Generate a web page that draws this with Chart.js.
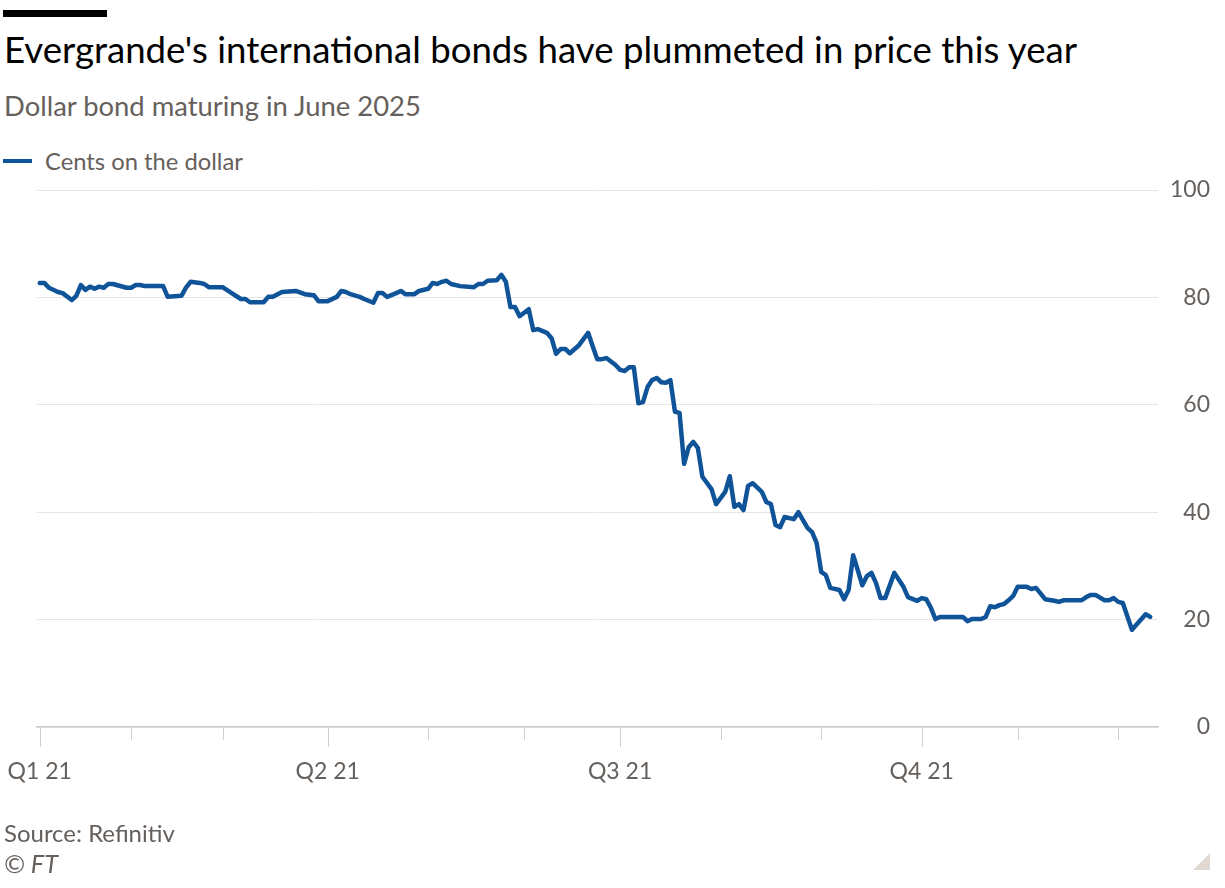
<!DOCTYPE html>
<html>
<head>
<meta charset="utf-8">
<script src="https://cdn.jsdelivr.net/npm/chart.js@4.4.1/dist/chart.umd.min.js"></script>
<style>
  html, body { margin: 0; padding: 0; background: #ffffff; }
  #wrap { position: relative; width: 1225px; height: 888px; overflow: hidden; font-family: Lato, "Noto Sans", sans-serif; }
  #chart { position: absolute; left: 0; top: 0; }
  .txt { position: absolute; left: 4px; white-space: nowrap; line-height: 1.2; }
  .txt span { display: inline-block; }
  #bar { position: absolute; left: 3px; top: 10px; width: 104px; height: 7px; background: #000; }
  #title { color: #000; }
  #subtitle { color: #66605c; }
  #legendText { color: #66605c; left: 45px; }
  #legendLine { position: absolute; left: 3px; top: 159px; width: 29px; height: 4px; background: #0f5499; }
  #source { color: #66605c; }
  #copy { color: #66605c; font-style: italic; }
  #corner { position: absolute; left: 1193px; top: 853px; width: 0; height: 0;
            border-left: 17px solid transparent; border-bottom: 17px solid #e0d9d3; }
</style>
</head>
<body>
<div id="wrap">
  <div id="bar"></div>
  <div class="txt" id="title" data-w="1073" data-base="64"><span>Evergrande's international bonds have plummeted in price this year</span></div>
  <div class="txt" id="subtitle" data-w="417" data-base="117"><span>Dollar bond maturing in June 2025</span></div>
  <div id="legendLine"></div>
  <div class="txt" id="legendText" data-w="198" data-base="170"><span>Cents on the dollar</span></div>
  <canvas id="chart" width="1225" height="888"></canvas>
  <div class="txt" id="source" data-w="171" data-base="843"><span>Source: Refinitiv</span></div>
  <div class="txt" id="copy" data-w="54" data-base="873"><span>© FT</span></div>
  <div id="corner"></div>
</div>
<script>
// ---- Data (x = trading day of 2021, y = price in cents on the dollar) ----
const tradingDay = [0,1,2,4,5,7,8,9,10,11,12,13,14,15,16,19,20,21,22,23,27,28,31,32,33,35,36,37,40,42,44,45,46,49,50,51,53,56,58,60,61,63,65,66,67,68,70,71,73,74,75,76,78,79,80,82,83,85,86,87,88,89,90,92,95,96,97,98,100,101,102,103,104,105,107,108,109,111,112,113,114,115,116,118,120,121,122,123,124,126,127,128,129,130,131,132,133,134,135,136,137,138,139,140,141,142,143,144,145,147,148,150,151,152,153,154,155,156,158,159,160,161,162,163,165,166,168,169,170,171,172,173,175,176,177,178,180,181,182,183,184,185,187,189,190,192,193,194,195,196,197,202,203,204,206,207,208,209,210,211,212,213,214,216,217,218,220,222,223,224,228,229,230,231,233,234,235,236,237,239,242,243];
const centsOnDollar = [82.7,82.7,81.8,81.0,80.8,79.5,80.3,82.3,81.4,82.0,81.6,82.0,81.8,82.5,82.5,81.8,81.8,82.3,82.3,82.1,82.1,80.1,80.3,81.8,82.9,82.7,82.5,81.9,81.9,80.8,79.7,79.7,79.1,79.1,80.1,80.1,81.0,81.2,80.6,80.4,79.3,79.3,80.1,81.2,81.0,80.6,80.1,79.7,79.0,80.8,80.8,80.1,80.8,81.2,80.6,80.6,81.2,81.6,82.7,82.5,82.9,83.1,82.5,82.1,81.9,82.5,82.5,83.1,83.2,84.2,82.9,78.2,78.2,76.5,77.8,73.9,74.1,73.4,72.4,69.5,70.4,70.4,69.6,71.1,73.4,70.9,68.5,68.5,68.7,67.4,66.5,66.3,67.0,67.0,60.3,60.5,63.3,64.6,65.0,64.2,64.1,64.6,58.7,58.5,49.0,52.1,53.1,52.0,46.6,44.3,41.5,43.8,46.7,41.0,41.5,40.4,44.9,45.4,43.8,41.9,41.5,37.6,37.2,39.1,38.7,40.0,37.1,36.3,34.3,28.9,28.3,25.9,25.5,23.8,25.5,32.0,26.4,28.1,28.7,26.8,24.0,24.0,28.7,26.1,24.2,23.5,24.0,23.8,22.2,20.1,20.5,20.5,19.7,20.1,20.1,20.5,22.5,22.3,22.7,22.9,23.6,24.4,26.1,26.1,25.7,25.9,23.8,23.5,23.3,23.6,23.6,24.2,24.6,24.6,23.6,23.6,24.0,23.3,23.1,18.1,21.0,20.5];
// Month starts (trading-day index) and their labels
const monthTicks = [0,20,40,63,85,106,127,149,171,193,214,236];
const monthLabels = ['Q1 21','','','Q2 21','','','Q3 21','','','Q4 21','',''];
const quarterTicks = [0,63,127,193];
const yTicks = [0,20,40,60,80,100];
const seriesName = 'Cents on the dollar';

// ---- Fit HTML text to target widths ----
document.querySelectorAll('.txt').forEach(el => {
  const span = el.querySelector('span');
  let size = 30;
  el.style.fontSize = size + 'px';
  const w = span.getBoundingClientRect().width;
  size = size * (+el.dataset.w) / w;
  el.style.fontSize = size.toFixed(2) + 'px';
  el.style.top = (+el.dataset.base - 0.987 * size).toFixed(1) + 'px';
});

const tickMarks = {
  id: 'tickMarks',
  afterDraw(chart) {
    const sx = chart.scales.x;
    const ctx = chart.ctx;
    const y0 = chart.chartArea.bottom;
    ctx.save();
    ctx.strokeStyle = '#cfcfcf';
    ctx.lineWidth = 1;
    monthTicks.forEach(v => {
      const px = Math.round(sx.getPixelForValue(v)) + 0.5;
      const len = quarterTicks.includes(v) ? 20 : 13;
      ctx.beginPath();
      ctx.moveTo(px, y0);
      ctx.lineTo(px, y0 + len);
      ctx.stroke();
    });
    ctx.restore();
  }
};

new Chart(document.getElementById('chart'), {
  type: 'line',
  data: {
    datasets: [{
      label: seriesName,
      data: tradingDay.map((d, i) => ({ x: d, y: centsOnDollar[i] })),
      borderColor: '#0f5499',
      borderWidth: 4.5,
      pointRadius: 0,
      tension: 0,
      borderJoinStyle: 'round',
      borderCapStyle: 'round',
      fill: false
    }]
  },
  options: {
    responsive: false,
    animation: false,
    devicePixelRatio: 1,
    layout: { padding: { left: 37, top: 190, right: 15, bottom: 0 } },
    plugins: { legend: { display: false }, tooltip: { enabled: false }, title: { display: false } },
    scales: {
      x: {
        type: 'linear',
        min: -0.6,
        max: 244.7,
        grid: { display: false },
        border: { display: true, color: '#cccccc', width: 1.5 },
        afterBuildTicks: axis => { axis.ticks = monthTicks.map(v => ({ value: v })); },
        afterFit: axis => { axis.height = 161; axis.paddingLeft = 0; axis.paddingRight = 0; },
        ticks: {
          autoSkip: false,
          maxRotation: 0,
          padding: 23,
          color: '#66605c',
          font: { family: 'Lato', size: 23 },
          callback: value => monthLabels[monthTicks.indexOf(value)]
        }
      },
      y: {
        position: 'right',
        min: 0,
        max: 100,
        afterBuildTicks: axis => { axis.ticks = yTicks.map(v => ({ value: v })); },
        afterFit: axis => { axis.width = 52; axis.paddingTop = 0; axis.paddingBottom = 0; },
        grid: { color: '#e6e6e6', lineWidth: 1, drawTicks: false },
        border: { display: false },
        ticks: {
          crossAlign: 'far',
          padding: 0,
          color: '#66605c',
          font: { family: 'Lato', size: 23 }
        }
      }
    }
  },
  plugins: [tickMarks]
});
</script>
</body>
</html>
